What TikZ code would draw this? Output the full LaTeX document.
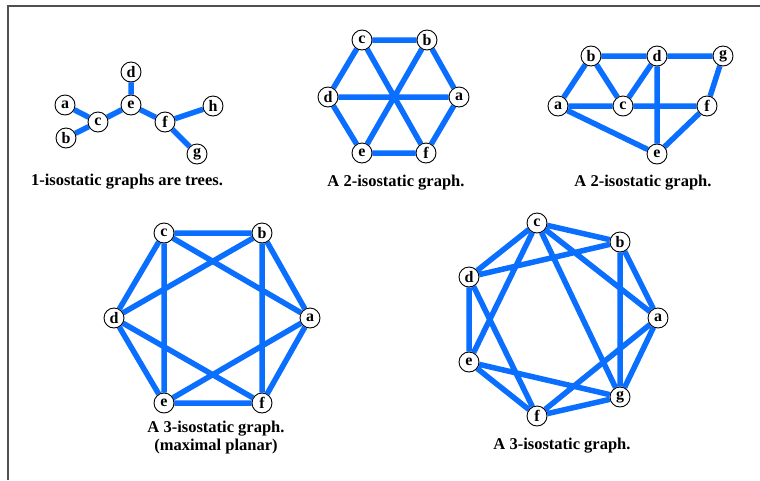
\documentclass[tikz,border=0pt]{standalone}
\usepackage{fontspec}
\setmainfont{Liberation Serif}
\usetikzlibrary{backgrounds}
\definecolor{edgeblue}{RGB}{10,110,255}
\definecolor{framegray}{RGB}{80,80,80}
\tikzset{
  vtx/.style={circle, draw=black, line width=0.9pt, fill=white, inner sep=0pt, minimum size=20pt, font=\fontsize{16}{16}\selectfont\bfseries},
  edge/.style={draw=edgeblue, line width=5.5pt},
  captext/.style={font=\fontsize{16.5}{18}\selectfont\bfseries, align=center}
}
\begin{document}
\begin{tikzpicture}[x=1pt,y=-1pt]
\useasboundingbox (0,0) rectangle (760,480);
\coordinate (fa) at (8,480);
\coordinate (fb) at (8,6);
\coordinate (fc) at (760,6);
\draw[framegray, line width=1.8pt] (fa) -- (fb) -- (fc);

% Graph 1: tree
\node[vtx] (1a) at (65,105) {a};
\node[vtx] (1b) at (66,138) {b};
\node[vtx] (1c) at (98,122) {c};
\node[vtx] (1d) at (131,72) {d};
\node[vtx] (1e) at (131,105) {e};
\node[vtx] (1f) at (165,122) {f};
\node[vtx] (1h) at (213,106) {h};
\node[vtx] (1g) at (197,154) {g};
\node[captext] (cap1) at (127,182) {1-isostatic graphs are trees.};

% Graph 2
\node[vtx] (2c) at (362,40) {c};
\node[vtx] (2b) at (427,40) {b};
\node[vtx] (2d) at (328,97) {d};
\node[vtx] (2a) at (459,97) {a};
\node[vtx] (2e) at (362,153) {e};
\node[vtx] (2f) at (426,153) {f};
\node[captext] (cap2) at (396,183) {A 2-isostatic graph.};

% Graph 3
\node[vtx] (3b) at (591,56) {b};
\node[vtx] (3d) at (657,56) {d};
\node[vtx] (3g) at (723,56) {g};
\node[vtx] (3a) at (558,106) {a};
\node[vtx] (3c) at (623,106) {c};
\node[vtx] (3f) at (707,106) {f};
\node[vtx] (3e) at (657,154) {e};
\node[captext] (cap3) at (643,183) {A 2-isostatic graph.};

% Graph 4
\node[vtx] (4c) at (164,233) {c};
\node[vtx] (4b) at (262,233) {b};
\node[vtx] (4d) at (114,318) {d};
\node[vtx] (4a) at (310,318) {a};
\node[vtx] (4e) at (164,403) {e};
\node[vtx] (4f) at (262,403) {f};
\node[captext] (cap4) at (216,438) {A 3-isostatic graph.\\(maximal planar)};

% Graph 5
\node[vtx] (5c) at (537,223) {c};
\node[vtx] (5b) at (620,242) {b};
\node[vtx] (5d) at (469,277) {d};
\node[vtx] (5a) at (658,318) {a};
\node[vtx] (5e) at (469,362) {e};
\node[vtx] (5g) at (620,397) {g};
\node[vtx] (5f) at (537,416) {f};
\node[captext] (cap5) at (562,446) {A 3-isostatic graph.};

\begin{scope}[on background layer]
\path[edge] (1a) -- (1c) (1b) -- (1c) (1c) -- (1e) (1d) -- (1e) (1e) -- (1f) (1f) -- (1h) (1f) -- (1g);
\path[edge] (2c) -- (2b) (2b) -- (2a) (2a) -- (2f) (2f) -- (2e) (2e) -- (2d) (2d) -- (2c) (2d) -- (2a) (2c) -- (2f) (2b) -- (2e);
\path[edge] (3a) -- (3b) (3b) -- (3d) (3d) -- (3g) (3b) -- (3c) (3c) -- (3d) (3a) -- (3c) (3c) -- (3f) (3d) -- (3e) (3g) -- (3f) (3f) -- (3e) (3a) -- (3e);
\path[edge] (4c) -- (4b) (4c) -- (4d) (4c) -- (4e) (4c) -- (4a) (4b) -- (4d) (4b) -- (4f) (4b) -- (4a) (4d) -- (4e) (4d) -- (4f) (4a) -- (4e) (4a) -- (4f) (4e) -- (4f);
\path[edge] (5c) -- (5b) (5c) -- (5d) (5c) -- (5e) (5c) -- (5a) (5c) -- (5g) (5b) -- (5d) (5b) -- (5a) (5b) -- (5g) (5d) -- (5e) (5d) -- (5f) (5e) -- (5g) (5e) -- (5f) (5a) -- (5f) (5a) -- (5g) (5f) -- (5g);
\end{scope}
\end{tikzpicture}
\end{document}
